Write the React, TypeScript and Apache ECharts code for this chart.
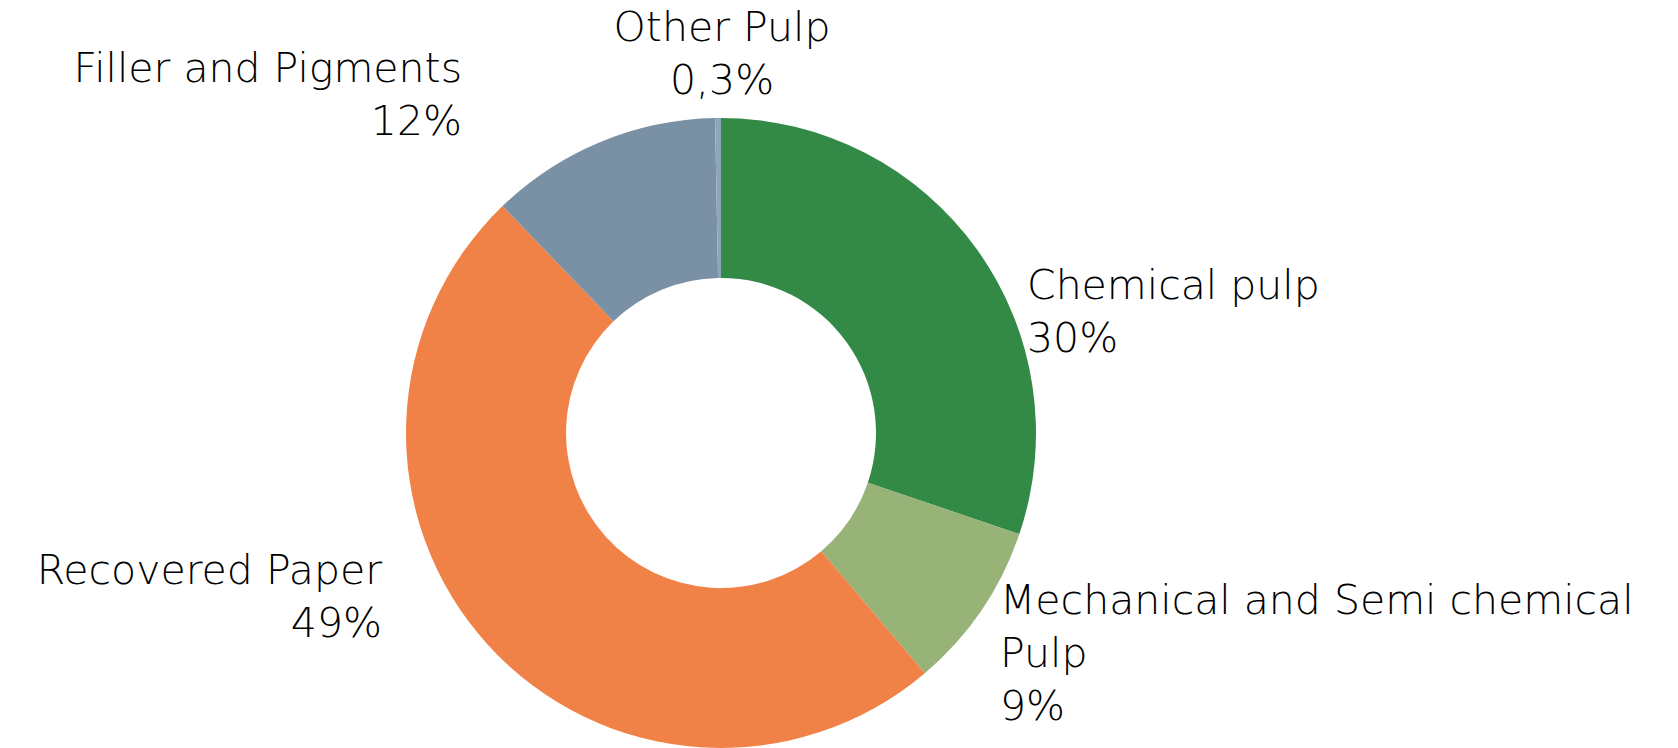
import React, { useEffect, useRef } from "react";
import * as echarts from "echarts";

const categories = [
  "Chemical pulp",
  "Mechanical and Semi chemical\nPulp",
  "Recovered Paper",
  "Filler and Pigments",
  "Other Pulp",
];
const values = [30.2, 8.6, 49.0, 11.9, 0.3];
const percentLabels = ["30%", "9%", "49%", "12%", "0,3%"];
const colors = ["#338A46", "#97B378", "#F18247", "#7A91A5", "#8FA5B8"];

// label anchor layout (x, y, align) in px
const labelPlaces = [
  { x: 1027, y: 311, align: "left" },
  { x: 1000, y: 653, align: "left" },
  { x: 382, y: 596, align: "right" },
  { x: 462, y: 94, align: "right" },
  { x: 722, y: 53, align: "center" },
];

export default function App() {
  const ref = useRef<HTMLDivElement>(null);
  useEffect(() => {
    document.body.style.margin = "0";
    const chart = echarts.init(ref.current!, undefined, { renderer: "svg" });
    chart.setOption({
      animation: false,
      backgroundColor: "#ffffff",
      series: [
        {
          type: "pie",
          center: [721, 433],
          radius: [155, 315],
          startAngle: 90,
          clockwise: true,
          avoidLabelOverlap: false,
          data: categories.map((name, i) => ({
            name,
            value: values[i],
            itemStyle: { color: colors[i] },
            label: {
              align: labelPlaces[i].align,
            },
          })),
          label: {
            show: true,
            position: "outside",
            formatter: (p: any) => `${p.name}\n${percentLabels[p.dataIndex]}`,
            fontFamily: "DejaVu Sans",
            fontWeight: 300,
            fontSize: 41,
            lineHeight: 53,
            color: "#000000",
          },
          labelLine: { show: false },
          labelLayout: (p: any) => {
            const pl = labelPlaces[p.dataIndex];
            return { x: pl.x, y: pl.y, align: pl.align, verticalAlign: "middle" };
          },
          emphasis: { disabled: true },
        },
      ],
    });
    return () => chart.dispose();
  }, []);
  return <div ref={ref} style={{ width: 1678, height: 748 }} />;
}
